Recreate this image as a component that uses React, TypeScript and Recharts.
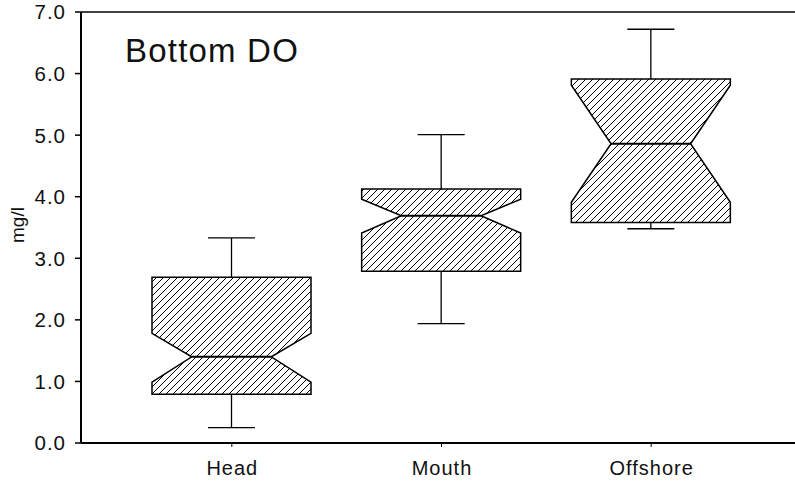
import React from 'react';
import { ComposedChart, Bar, XAxis, YAxis, ReferenceLine, Customized } from 'recharts';

const categories = ['Head', 'Mouth', 'Offshore'];
const whiskerLow = [0.25, 1.94, 3.48];
const q1 = [0.79, 2.79, 3.58];
const notchLow = [0.99, 3.41, 3.91];
const median = [1.4, 3.69, 4.86];
const notchHigh = [1.78, 3.96, 5.81];
const q3 = [2.69, 4.125, 5.91];
const whiskerHigh = [3.33, 5.01, 6.72];
const yTicks = [0, 1, 2, 3, 4, 5, 6, 7];

const data = categories.map((name, i) => ({
  name,
  range: [whiskerLow[i], whiskerHigh[i]],
  lo: whiskerLow[i],
  q1: q1[i],
  nLo: notchLow[i],
  med: median[i],
  nHi: notchHigh[i],
  q3: q3[i],
  hi: whiskerHigh[i],
}));

const FONT = '"Liberation Sans", Arial, sans-serif';

const BoxShape = (props: any) => {
  const { x, y, width, height, payload, index } = props;
  const { lo, hi } = payload;
  const py = (v: number) => y + ((hi - v) / (hi - lo)) * height;
  const L = x;
  const R = x + width;
  const cx = x + width / 2;
  const indent = width / 4;
  const capHalf = width * 0.148;
  const pts = [
    [L, py(payload.q3)],
    [R, py(payload.q3)],
    [R, py(Math.min(payload.nHi, payload.q3))],
    [R - indent, py(payload.med)],
    [R, py(Math.max(payload.nLo, payload.q1))],
    [R, py(payload.q1)],
    [L, py(payload.q1)],
    [L, py(Math.max(payload.nLo, payload.q1))],
    [L + indent, py(payload.med)],
    [L, py(Math.min(payload.nHi, payload.q3))],
  ];
  const id = `hatch-${index}`;
  return (
    <g>
      <defs>
        <pattern id={id} patternUnits="userSpaceOnUse" width={7} height={7}>
          <rect width={7} height={7} fill="#fff" />
          <path d="M0,7 L7,0 M-1,1 L1,-1 M6,8 L8,6" stroke="#000" strokeWidth={1} />
        </pattern>
      </defs>
      <line x1={cx} x2={cx} y1={py(hi)} y2={py(payload.q3)} stroke="#000" strokeWidth={1.3} />
      <line x1={cx} x2={cx} y1={py(payload.q1)} y2={py(lo)} stroke="#000" strokeWidth={1.3} />
      <line x1={cx - capHalf} x2={cx + capHalf} y1={py(hi)} y2={py(hi)} stroke="#000" strokeWidth={1.3} />
      <line x1={cx - capHalf} x2={cx + capHalf} y1={py(lo)} y2={py(lo)} stroke="#000" strokeWidth={1.3} />
      <polygon
        points={pts.map((p) => p.join(',')).join(' ')}
        fill={`url(#${id})`}
        stroke="#000"
        strokeWidth={1.5}
        strokeLinejoin="miter"
      />
      <line x1={L + indent} x2={R - indent} y1={py(payload.med)} y2={py(payload.med)} stroke="#000" strokeWidth={2} />
    </g>
  );
};

const YTick = (props: any) => {
  const { x, y, payload } = props;
  return (
    <text x={x + 1} y={y} dy="0.36em" textAnchor="end" fontFamily={FONT} fontSize={20.5} letterSpacing={1} fill="#111">
      {Number(payload.value).toFixed(1)}
    </text>
  );
};

const XTick = (props: any) => {
  const { x, y, payload } = props;
  return (
    <text x={x + 0.5} y={y} dy="0.71em" textAnchor="middle" fontFamily={FONT} fontSize={20} letterSpacing={1} fill="#111">
      {payload.value}
    </text>
  );
};

export default function App() {
  return (
    <div style={{ position: 'absolute', left: 0, top: 0, width: 795, height: 486, background: '#fff' }}>
      <ComposedChart width={795} height={486} data={data} margin={{ top: 12, right: 0, left: 0, bottom: 0 }}>
        <XAxis
          dataKey="name"
          height={43}
          padding={{ left: 46, right: 39 }}
          axisLine={{ stroke: '#000', strokeWidth: 2 }}
          tickLine={{ stroke: '#000', strokeWidth: 1 }}
          tickSize={4}
          tickMargin={14}
          tick={<XTick />}
          interval={0}
        />
        <YAxis
          type="number"
          domain={[0, 7]}
          ticks={yTicks}
          width={81}
          axisLine={{ stroke: '#000', strokeWidth: 2 }}
          tickLine={{ stroke: '#000', strokeWidth: 1.5 }}
          tickSize={6}
          tickMargin={10}
          tick={<YTick />}
          allowDataOverflow
        />
        <ReferenceLine y={7} stroke="#000" strokeWidth={1.5} ifOverflow="extendDomain" />
        <Bar dataKey="range" barSize={159} shape={<BoxShape />} isAnimationActive={false} />
        <Customized
          component={
            <g>
              <text x={125} y={62} fontFamily={FONT} fontSize={33} letterSpacing={1.2} fill="#111">
                Bottom DO
              </text>
              <text
                x={0}
                y={0}
                transform="translate(24,225) rotate(-90)"
                textAnchor="middle"
                fontFamily={FONT}
                fontSize={19}
                fill="#111"
              >
                mg/l
              </text>
            </g>
          }
        />
      </ComposedChart>
    </div>
  );
}
